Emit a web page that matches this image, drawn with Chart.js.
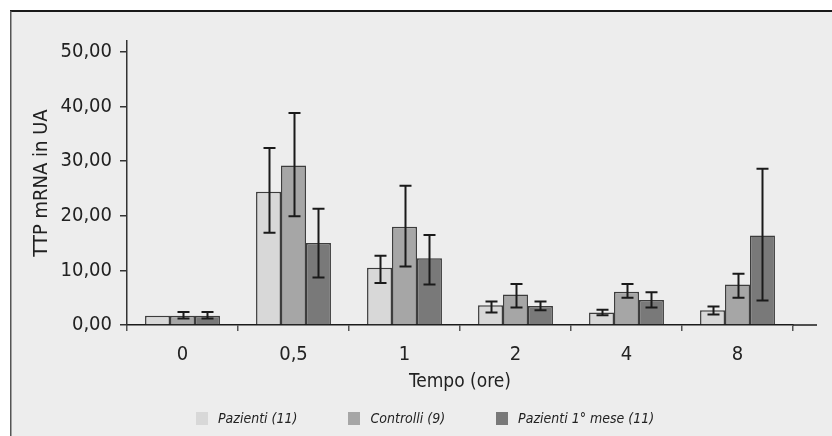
<!DOCTYPE html>
<html>
<head>
<meta charset="utf-8">
<script src="https://cdn.jsdelivr.net/npm/chart.js@4.4.1/dist/chart.umd.min.js"></script>
<style>
	html, body {margin: 0; padding: 0; background: #ffffff;}
	#wrap {position: relative; width: 832px; height: 436px;}
	#legend
	{
		position: absolute; left: 196px; top: 408px; height: 20px;
		display: flex; align-items: center;
		font-family: "DejaVu Sans Condensed", "Liberation Sans Narrow", sans-serif;
		font-style: italic; font-size: 14px; color: #222222;
	}
	#legend .item {display: flex; align-items: center; margin-right: 51px;}
	#legend .box {width: 12px; height: 13px; margin-right: 10px;}
</style>
</head>
<body>
<div id="wrap">
	<canvas id="chart" width="832" height="436"></canvas>
	<div id="legend"></div>
</div>
<script>
	// values, units UA
	var categories = ['0', '0,5', '1', '2', '4', '8'];

	var seriesNames = ['Pazienti (11)', 'Controlli (9)', 'Pazienti 1° mese (11)'];

	var pazienti = [1.7, 24.4, 10.5, 3.6, 2.3, 2.7];
	var pazientiLow = [null, 16.9, 7.7, 2.3, 1.8, 1.9];
	var pazientiHigh = [null, 32.4, 12.7, 4.3, 2.8, 3.4];

	var controlli = [1.7, 29.2, 18.0, 5.6, 6.1, 7.4];
	var controlliLow = [1.2, 19.9, 10.7, 3.2, 5.0, 5.0];
	var controlliHigh = [2.4, 38.8, 25.5, 7.5, 7.5, 9.4];

	var pazientiMese = [1.7, 15.0, 12.2, 3.5, 4.6, 16.4];
	var pazientiMeseLow = [1.2, 8.7, 7.4, 2.7, 3.2, 4.5];
	var pazientiMeseHigh = [2.4, 21.3, 16.5, 4.3, 6.0, 28.6];

	var yTicks = [0, 10, 20, 30, 40, 50];

	var colours = ['#d8d8d8', '#a6a6a6', '#797979'];
	var fontFamily = '"DejaVu Sans Condensed", "Liberation Sans Narrow", sans-serif';

	var framePlugin =
	{
		id: 'frame',
		beforeDraw: function (chart)
		{
			var ctx = chart.ctx;
			ctx.save();
			ctx.fillStyle = '#ffffff';
			ctx.fillRect(0, 0, chart.width, chart.height);
			ctx.fillStyle = '#ededed';
			ctx.fillRect(10, 11, chart.width - 10, chart.height - 11);
			ctx.strokeStyle = '#1a1a1a';
			ctx.lineWidth = 2;
			ctx.beginPath();
			ctx.moveTo(10, 11);
			ctx.lineTo(chart.width, 11);
			ctx.stroke();
			ctx.strokeStyle = '#555555';
			ctx.lineWidth = 1.5;
			ctx.beginPath();
			ctx.moveTo(10.75, 11);
			ctx.lineTo(10.75, chart.height);
			ctx.stroke();
			ctx.restore();
		},
		afterDraw: function (chart)
		{
			// x axis line runs a little past the last category
			var ctx = chart.ctx;
			var y = chart.scales.y.getPixelForValue(0);
			ctx.save();
			ctx.strokeStyle = '#1a1a1a';
			ctx.lineWidth = 1.5;
			ctx.beginPath();
			ctx.moveTo(chart.chartArea.right, y);
			ctx.lineTo(chart.chartArea.right + 24, y);
			ctx.stroke();
			ctx.restore();
		}
	};

	var errorBarPlugin =
	{
		id: 'errorBars',
		afterDatasetsDraw: function (chart)
		{
			var ctx = chart.ctx;
			var yScale = chart.scales.y;

			ctx.save();
			ctx.strokeStyle = '#1a1a1a';
			ctx.lineWidth = 2;

			chart.data.datasets.forEach(function (dataset, i)
			{
				var meta = chart.getDatasetMeta(i);

				meta.data.forEach(function (bar, j)
				{
					var low = dataset.errLow[j];
					var high = dataset.errHigh[j];
					if (low == null || high == null) {return}

					var x = Math.round(bar.x) + 0.5;
					var yLow = yScale.getPixelForValue(low);
					var yHigh = yScale.getPixelForValue(high);

					ctx.beginPath();
					ctx.moveTo(x, yHigh);
					ctx.lineTo(x, yLow);
					ctx.moveTo(x - 6, yHigh);
					ctx.lineTo(x + 6, yHigh);
					ctx.moveTo(x - 6, yLow);
					ctx.lineTo(x + 6, yLow);
					ctx.stroke();
				});
			});

			ctx.restore();
		}
	};

	var datasets =
	[
		{label: seriesNames[0], data: pazienti, errLow: pazientiLow, errHigh: pazientiHigh},
		{label: seriesNames[1], data: controlli, errLow: controlliLow, errHigh: controlliHigh},
		{label: seriesNames[2], data: pazientiMese, errLow: pazientiMeseLow, errHigh: pazientiMeseHigh}
	];

	datasets.forEach(function (dataset, i)
	{
		dataset.backgroundColor = colours[i];
		dataset.borderColor = '#3c3c3c';
		dataset.borderWidth = 1.5;
		dataset.categoryPercentage = 0.675;
		dataset.barPercentage = 1.0;
	});

	new Chart(document.getElementById('chart'),
	{
		type: 'bar',
		data:
		{
			labels: categories,
			datasets: datasets
		},
		options:
		{
			responsive: false,
			animation: false,
			events: [],
			layout:
			{
				padding: {left: 20, right: 39, top: 41, bottom: 39}
			},
			plugins:
			{
				legend: {display: false},
				tooltip: {enabled: false}
			},
			scales:
			{
				x:
				{
					grid:
					{
						offset: true,
						drawOnChartArea: false,
						drawTicks: true,
						tickLength: 6,
						color: '#555555',
						lineWidth: 1.5
					},
					border: {color: '#1a1a1a', width: 1.5},
					ticks:
					{
						color: '#222222',
						padding: 12,
						font: {family: fontFamily, size: 20}
					},
					title:
					{
						display: true,
						text: 'Tempo (ore)',
						color: '#222222',
						padding: {top: 0, bottom: 4},
						font: {family: fontFamily, size: 19}
					},
					afterFit: function (scale) {scale.height = 72}
				},
				y:
				{
					min: 0,
					max: 52,
					grid:
					{
						drawOnChartArea: false,
						drawTicks: true,
						tickLength: 7,
						color: '#333333',
						lineWidth: 1.5
					},
					border: {color: '#333333', width: 1.5},
					afterBuildTicks: function (scale)
					{
						scale.ticks = yTicks.map(function (v) {return {value: v}});
					},
					ticks:
					{
						color: '#222222',
						padding: 8,
						font: {family: fontFamily, size: 20},
						callback: function (value) {return value.toFixed(2).replace('.', ',')}
					},
					title:
					{
						display: true,
						text: 'TTP mRNA in UA',
						color: '#222222',
						padding: {top: 10, bottom: 0},
						font: {family: fontFamily, size: 20}
					},
					afterFit: function (scale) {scale.width = 107}
				}
			}
		},
		plugins: [framePlugin, errorBarPlugin]
	});

	var legendEl = document.getElementById('legend');

	seriesNames.forEach(function (name, i)
	{
		var item = document.createElement('div');
		item.className = 'item';
		var box = document.createElement('span');
		box.className = 'box';
		box.style.background = colours[i];
		var text = document.createElement('span');
		text.textContent = name;
		item.appendChild(box);
		item.appendChild(text);
		legendEl.appendChild(item);
	});
</script>
</body>
</html>
